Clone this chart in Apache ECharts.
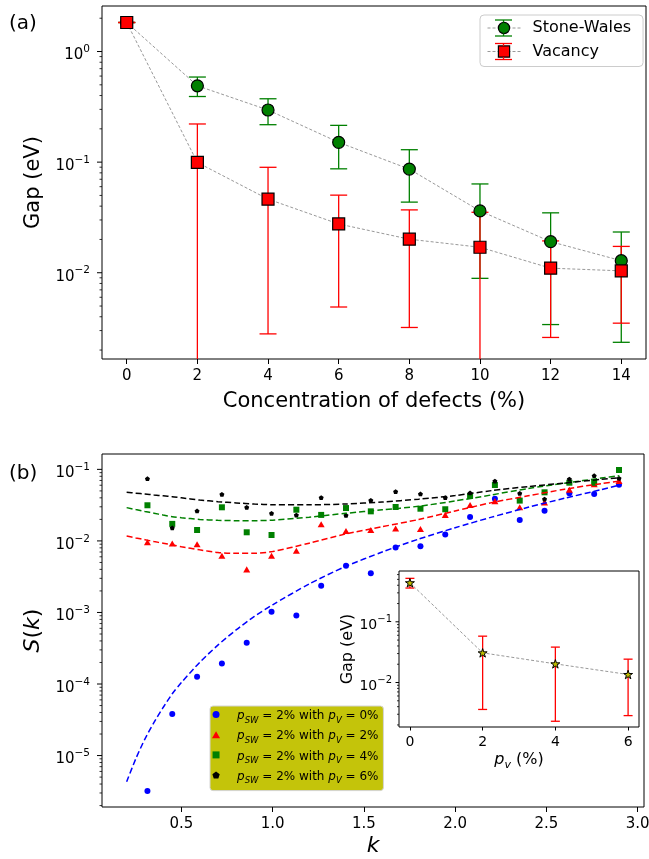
<!DOCTYPE html>
<html>
<head>
<meta charset="utf-8">
<title>Gap vs defects and S(k)</title>
<script src="https://cdn.jsdelivr.net/npm/echarts@6/dist/echarts.min.js"></script>
<style>
  html, body { margin: 0; padding: 0; background: #fff; }
  #chart-wrapper { width: 649px; height: 859px; }
</style>
</head>
<body>
<div id="chart-wrapper"></div>
<script>
// (a) gap vs concentration of defects
const defectPct = [0, 2, 4, 6, 8, 10, 12, 14];
const swGap = [1.83, 0.49, 0.296, 0.151, 0.0865, 0.0362, 0.0191, 0.01285];
const swErr = [0, 0.098, 0.078, 0.064, 0.043, 0.0273, 0.0157, 0.0105];
const vacGap = [1.83, 0.0993, 0.0463, 0.0276, 0.0201, 0.017, 0.011, 0.0104];
const vacErr = [0, 0.122, 0.0435, 0.0227, 0.0169, 0.0182, 0.0084, 0.0069];
const defectTicks = [0, 2, 4, 6, 8, 10, 12, 14];

// (b) structure factor S(k), p_SW = 2%
const kPoints = [0.314, 0.45, 0.586, 0.722, 0.858, 0.994, 1.13, 1.266, 1.402, 1.538,
  1.674, 1.81, 1.946, 2.082, 2.218, 2.354, 2.49, 2.626, 2.762, 2.898];
const sPv0 = [3.2e-6, 3.8e-5, 1.26e-4, 1.94e-4, 3.77e-4, 1.02e-3, 9.1e-4, 2.36e-3, 4.48e-3, 3.54e-3,
  8.07e-3, 8.4e-3, 0.0123, 0.0216, 0.0389, 0.0196, 0.0265, 0.0462, 0.0452, 0.061];
const sPv2 = [0.0096, 0.0092, 0.009, 0.0062, 0.004, 0.0062, 0.0073, 0.0171, 0.0138, 0.0142,
  0.0149, 0.0147, 0.0231, 0.0318, 0.036, 0.0295, 0.0346, 0.0518, 0.062, 0.069];
const sPv4 = [0.0315, 0.0173, 0.0142, 0.0295, 0.0132, 0.0121, 0.0273, 0.0231, 0.0288, 0.0259,
  0.0298, 0.0282, 0.0277, 0.0425, 0.0604, 0.0366, 0.0478, 0.0651, 0.065, 0.098];
const sPv6 = [0.074, 0.0152, 0.0262, 0.0448, 0.0295, 0.0243, 0.0229, 0.0403, 0.0228, 0.0369,
  0.0488, 0.0453, 0.0403, 0.0468, 0.0687, 0.0462, 0.0385, 0.0733, 0.0816, 0.0749];

// fitted curves (dashed)
const kFit = [0.2, 0.25, 0.3, 0.35, 0.4, 0.45, 0.5, 0.6, 0.7, 0.8, 0.9, 1.0, 1.2, 1.4, 1.6, 1.8,
  2.0, 2.2, 2.4, 2.6, 2.8, 2.9];
const fitPv0 = [4.3e-6, 9.0e-6, 1.7e-5, 2.9e-5, 4.7e-5, 7.3e-5, 1.05e-4, 2.0e-4, 3.5e-4, 5.7e-4, 8.8e-4,
  1.28e-3, 2.5e-3, 4.4e-3, 7.0e-3, 0.0106, 0.0153, 0.0215, 0.0295, 0.0395, 0.052, 0.0605];
const fitPv2 = [0.0117, 0.011, 0.0104, 0.0098, 0.0093, 0.0088, 0.0083, 0.0075, 0.0069, 0.0067, 0.0067,
  0.0071, 0.0093, 0.0125, 0.0158, 0.0199, 0.0262, 0.0343, 0.0427, 0.0528, 0.0632, 0.0687];
const fitPv4 = [0.0292, 0.0274, 0.0258, 0.0244, 0.023, 0.0218, 0.0211, 0.02, 0.0194, 0.0192, 0.0192,
  0.0195, 0.0215, 0.0243, 0.0272, 0.0305, 0.0362, 0.044, 0.054, 0.0642, 0.0755, 0.0814];
const fitPv6 = [0.0478, 0.0465, 0.0452, 0.0439, 0.0427, 0.0415, 0.04, 0.0373, 0.0354, 0.034, 0.0328,
  0.0321, 0.032, 0.0328, 0.035, 0.0383, 0.043, 0.0505, 0.0575, 0.0645, 0.0725, 0.0764];
const pvLevels = ['0%', '2%', '4%', '6%'];
const kTicks = [0.5, 1.0, 1.5, 2.0, 2.5, 3.0];

// inset: gap vs p_v
const pvPct = [0, 2, 4, 6];
const pvGap = [0.44, 0.0308, 0.0203, 0.01355];
const pvErr = [0.08, 0.0272, 0.018, 0.0107];
const pvTicks = [0, 2, 4, 6];

const FONT = 'DejaVu Sans';
const STAR = 'path://M0,-1L0.2245,-0.309L0.951,-0.309L0.363,0.118L0.588,0.809L0,0.382L-0.588,0.809L-0.363,0.118L-0.951,-0.309L-0.2245,-0.309Z';
const PENTA = 'path://M0,-1L0.951,-0.309L0.588,0.809L-0.588,0.809L-0.951,-0.309Z';
const TRI = 'path://M0,-1L0.866,0.5L-0.866,0.5Z';
const SQUARE = 'path://M-1,-1L1,-1L1,1L-1,1Z';

let option;
let chart;
const chartDom = document.getElementById('chart-wrapper');

const zip = (xs, ys) => xs.map((x, i) => [x, ys[i]]);

// 10^n labels, empty for the range ends
const powLabel = (v) => {
  const e = Math.log10(v);
  const r = Math.round(e);
  if (Math.abs(e - r) > 1e-6) return '';
  return '{b|10}{s|' + (r < 0 ? '\u2212' + (-r) : r) + '}';
};
const powRich = (base, sup) => ({
  b: { fontFamily: FONT, fontSize: base, lineHeight: base, padding: [4, 0, 4, 0], verticalAlign: 'top', color: '#000' },
  s: { fontFamily: FONT, fontSize: sup, lineHeight: sup, verticalAlign: 'top', color: '#000' },
});

// matplotlib style log ticks (majors + 2..9 minors)
const logTicks = (min, max) => {
  const out = [];
  for (let n = Math.floor(Math.log10(min)); n <= Math.ceil(Math.log10(max)); n++) {
    for (let m = 1; m <= 9; m++) {
      const v = m * Math.pow(10, n);
      if (v >= min && v <= max) out.push([v, m === 1 ? 1 : 0]);
    }
  }
  return out;
};

const tickSeries = (idx, xMin, range, majorLen, minorLen) => ({
  type: 'custom',
  xAxisIndex: idx,
  yAxisIndex: idx,
  silent: true,
  clip: false,
  z: 3,
  data: logTicks(range[0], range[1]).map((t) => [xMin, t[0], t[1]]),
  renderItem: (params, api) => {
    const cs = params.coordSys;
    const y = api.coord([api.value(0), api.value(1)])[1];
    const major = api.value(2) === 1;
    const len = major ? majorLen : minorLen;
    return {
      type: 'line',
      shape: { x1: cs.x - len, y1: y, x2: cs.x, y2: y },
      style: { stroke: '#000', lineWidth: major ? 1 : 0.8 },
    };
  },
});

const errSeries = (name, idx, xs, vs, es, color, capHalf) => ({
  type: 'custom',
  name: name,
  xAxisIndex: idx,
  yAxisIndex: idx,
  silent: true,
  data: xs.map((x, i) => [x, vs[i], es[i]]),
  renderItem: (params, api) => {
    const cs = params.coordSys;
    const x = api.value(0);
    const v = api.value(1);
    const e = api.value(2);
    const top = api.coord([x, v + e]);
    const lo = v - e;
    const bot = lo > 0 ? api.coord([x, lo]) : [top[0], cs.y + cs.height];
    const st = { stroke: color, lineWidth: 1.3 };
    const children = [
      { type: 'line', shape: { x1: top[0], y1: top[1], x2: bot[0], y2: bot[1] }, style: st },
      { type: 'line', shape: { x1: top[0] - capHalf, y1: top[1], x2: top[0] + capHalf, y2: top[1] }, style: st },
    ];
    if (lo > 0) {
      children.push({ type: 'line', shape: { x1: bot[0] - capHalf, y1: bot[1], x2: bot[0] + capHalf, y2: bot[1] }, style: st });
    }
    return { type: 'group', children: children };
  },
});

const gapRange = [0.00166, 2.58];
const sRange = [1.91e-6, 0.164];
const insetRange = [0.00185, 0.687];

const xAxisBase = (idx, min, max, ticks, fontSize, tickLen) => ({
  gridIndex: idx,
  type: 'value',
  min: min,
  max: max,
  axisLine: { show: false, onZero: false },
  splitLine: { show: false },
  axisTick: { show: true, length: tickLen, customValues: ticks, lineStyle: { color: '#000', width: 1 } },
  axisLabel: { customValues: ticks, fontFamily: FONT, fontSize: fontSize, color: '#000', margin: tickLen + 5 },
  nameLocation: 'middle',
});

const yAxisBase = (idx, range, base, sup, margin) => ({
  gridIndex: idx,
  type: 'log',
  logBase: 10,
  min: range[0],
  max: range[1],
  axisLine: { show: false, onZero: false },
  axisTick: { show: false },
  minorTick: { show: false },
  splitLine: { show: false },
  axisLabel: { formatter: powLabel, rich: powRich(base, sup), margin: margin },
  nameLocation: 'middle',
});

const legendText = {};
pvLevels.forEach((p, i) => {
  legendText['pv' + i] = '{i|p}{sub|SW}{n| = 2% with }{i|p}{sub|V}{n| = ' + p + '}';
});

const pvSeries = [sPv0, sPv2, sPv4, sPv6];
const pvFits = [fitPv0, fitPv2, fitPv4, fitPv6];
const pvColors = ['#0000ff', '#ff0000', '#008000', '#000000'];
const pvSymbols = ['circle', TRI, SQUARE, PENTA];
const pvSizes = [6, 7, 6, 5];

const init_handler = () => {
  chart = echarts.init(chartDom, null, { renderer: 'canvas' });

  const series = [
    errSeries('swErr', 0, defectPct, swGap, swErr, '#008000', 8.5),
    {
      type: 'line',
      name: 'Stone-Wales',
      xAxisIndex: 0,
      yAxisIndex: 0,
      data: zip(defectPct, swGap),
      symbol: 'circle',
      symbolSize: 12,
      itemStyle: { color: '#008000', borderColor: '#000', borderWidth: 1.2 },
      lineStyle: { color: '#999', width: 1, type: [3, 2] },
      z: 4,
    },
    errSeries('vacErr', 0, defectPct, vacGap, vacErr, '#ff0000', 8.5),
    {
      type: 'line',
      name: 'Vacancy',
      xAxisIndex: 0,
      yAxisIndex: 0,
      data: zip(defectPct, vacGap),
      symbol: 'rect',
      symbolSize: 12,
      itemStyle: { color: '#ff0000', borderColor: '#000', borderWidth: 1.2 },
      lineStyle: { color: '#999', width: 1, type: [3, 2] },
      z: 4,
    },
  ];

  pvSeries.forEach((vals, i) => {
    series.push({
      type: 'scatter',
      name: 'pv' + i,
      xAxisIndex: 1,
      yAxisIndex: 1,
      data: zip(kPoints, vals),
      symbol: pvSymbols[i],
      symbolSize: pvSizes[i],
      symbolKeepAspect: true,
      itemStyle: { color: pvColors[i], opacity: 1 },
    });
    series.push({
      type: 'line',
      name: 'fit' + i,
      xAxisIndex: 1,
      yAxisIndex: 1,
      data: zip(kFit, pvFits[i]),
      showSymbol: false,
      symbol: 'none',
      smooth: 0.25,
      lineStyle: { color: pvColors[i], width: 1.5, type: [6, 3] },
    });
  });

  series.push(errSeries('pvErr', 2, pvPct, pvGap, pvErr, '#ff0000', 4.5));
  series.push({
    type: 'line',
    name: 'pvGap',
    xAxisIndex: 2,
    yAxisIndex: 2,
    data: zip(pvPct, pvGap),
    symbol: STAR,
    symbolSize: 9,
    symbolKeepAspect: true,
    itemStyle: { color: '#bfbf00', borderColor: '#000', borderWidth: 1 },
    lineStyle: { color: '#999', width: 1, type: [3, 2] },
    z: 4,
  });

  series.push(tickSeries(0, -0.7, gapRange, 5, 2.5));
  series.push(tickSeries(1, 0.065, sRange, 5, 2.5));
  series.push(tickSeries(2, -0.3, insetRange, 3.5, 2));

  const legendDecor = [];
  [[28, '#008000'], [51.5, '#ff0000']].forEach(([y, c]) => {
    const st = { stroke: c, lineWidth: 1.3 };
    legendDecor.push(
      { type: 'line', z: 100, shape: { x1: 495, y1: y - 8, x2: 512, y2: y - 8 }, style: st },
      { type: 'line', z: 100, shape: { x1: 495, y1: y + 8, x2: 512, y2: y + 8 }, style: st },
      { type: 'line', z: 100, shape: { x1: 503.5, y1: y - 8, x2: 503.5, y2: y - 5.5 }, style: st },
      { type: 'line', z: 100, shape: { x1: 503.5, y1: y + 5.5, x2: 503.5, y2: y + 8 }, style: st }
    );
  });

  option = {
    animation: false,
    backgroundColor: '#fff',
    textStyle: { fontFamily: FONT },
    title: [
      { text: '(a)', left: 9, top: 14, padding: 0, textStyle: { fontFamily: FONT, fontSize: 20, fontWeight: 'normal', color: '#000' } },
      { text: '(b)', left: 9, top: 464, padding: 0, textStyle: { fontFamily: FONT, fontSize: 20, fontWeight: 'normal', color: '#000' } },
    ],
    grid: [
      { left: 102, top: 6, width: 544, height: 353, show: true, backgroundColor: 'transparent', borderColor: '#000', borderWidth: 1, outerBoundsMode: 'none' },
      { left: 102, top: 454, width: 542, height: 353, show: true, backgroundColor: 'transparent', borderColor: '#000', borderWidth: 1, outerBoundsMode: 'none' },
      { left: 399, top: 571, width: 240, height: 156, show: true, backgroundColor: '#fff', borderColor: '#000', borderWidth: 1, outerBoundsMode: 'none' },
    ],
    legend: [
      {
        orient: 'vertical',
        left: 480,
        top: 15,
        data: ['Stone-Wales', 'Vacancy'],
        itemWidth: 33,
        itemHeight: 14,
        itemGap: 7.5,
        padding: [5, 12, 7, 7],
        backgroundColor: '#fff',
        borderColor: '#cccccc',
        borderWidth: 1,
        borderRadius: 4,
        selectedMode: false,
        textStyle: { fontFamily: FONT, fontSize: 16, lineHeight: 16, color: '#000', padding: [0, 0, 0, 7] },
        itemStyle: { borderWidth: 1.2 },
        lineStyle: { color: '#999', width: 1, type: [3, 2] },
      },
      {
        orient: 'vertical',
        left: 210,
        top: 706,
        data: ['pv0', 'pv1', 'pv2', 'pv3'],
        itemWidth: 32,
        itemHeight: 7,
        itemGap: 2.2,
        padding: [2, 5, 4, 2],
        backgroundColor: '#c4c40a',
        borderColor: '#d4d4d4',
        borderWidth: 1,
        borderRadius: 3,
        selectedMode: false,
        formatter: (name) => legendText[name],
        itemStyle: { borderWidth: 0 },
        textStyle: {
          fontFamily: FONT,
          fontSize: 12,
          color: '#000',
          rich: {
            n: { fontFamily: FONT, fontSize: 12, lineHeight: 13, padding: [2, 0, 3, 0], verticalAlign: 'top', color: '#000' },
            i: { fontFamily: FONT, fontSize: 12, fontStyle: 'italic', lineHeight: 13, padding: [2, 0, 3, 0], verticalAlign: 'top', color: '#000' },
            sub: { fontFamily: FONT, fontSize: 8.5, fontStyle: 'italic', lineHeight: 9, padding: [8, 0, 1, 0], verticalAlign: 'top', color: '#000' },
          },
        },
      },
    ],
    xAxis: [
      Object.assign(xAxisBase(0, -0.7, 14.7, defectTicks, 15, 5), {
        name: 'Concentration of defects (%)',
        nameGap: 32,
        nameTextStyle: { fontFamily: FONT, fontSize: 21, color: '#000' },
      }),
      Object.assign(xAxisBase(1, 0.065, 3.035, kTicks, 15, 5), {
        name: '{i|k}',
        nameGap: 28,
        nameTextStyle: { fontFamily: FONT, fontSize: 22, color: '#000', rich: { i: { fontFamily: FONT, fontSize: 22, fontStyle: 'italic', color: '#000' } } },
      }),
      Object.assign(xAxisBase(2, -0.3, 6.3, pvTicks, 14, 3.5), {
        name: '{i|p}{sub|v}{n| (%)}',
        nameGap: 18,
        nameTextStyle: {
          fontFamily: FONT,
          fontSize: 16,
          color: '#000',
          rich: {
            i: { fontFamily: FONT, fontSize: 16, fontStyle: 'italic', lineHeight: 16, padding: [1, 0, 4, 0], verticalAlign: 'top', color: '#000' },
            sub: { fontFamily: FONT, fontSize: 11, fontStyle: 'italic', lineHeight: 11, padding: [9, 0, 1, 0], verticalAlign: 'top', color: '#000' },
            n: { fontFamily: FONT, fontSize: 16, lineHeight: 16, padding: [1, 0, 4, 0], verticalAlign: 'top', color: '#000' },
          },
        },
      }),
    ],
    yAxis: [
      Object.assign(yAxisBase(0, gapRange, 15, 10.5, 12), {
        name: 'Gap (eV)',
        nameGap: 58,
        nameTextStyle: { fontFamily: FONT, fontSize: 21, color: '#000' },
      }),
      Object.assign(yAxisBase(1, sRange, 15, 10.5, 12), {
        name: '{i|S}({i|k})',
        nameGap: 58,
        nameTextStyle: { fontFamily: FONT, fontSize: 22, color: '#000', rich: { i: { fontFamily: FONT, fontSize: 22, fontStyle: 'italic', color: '#000' } } },
      }),
      Object.assign(yAxisBase(2, insetRange, 14, 10, 7), {
        name: 'Gap (eV)',
        nameGap: 38,
        nameTextStyle: { fontFamily: FONT, fontSize: 16, color: '#000' },
      }),
    ],
    graphic: { elements: legendDecor },
    series: series,
  };
  option.xAxis[1].axisLabel.formatter = (v) => v.toFixed(1);
  chart.setOption(option);
};

init_handler();
</script>
</body>
</html>
